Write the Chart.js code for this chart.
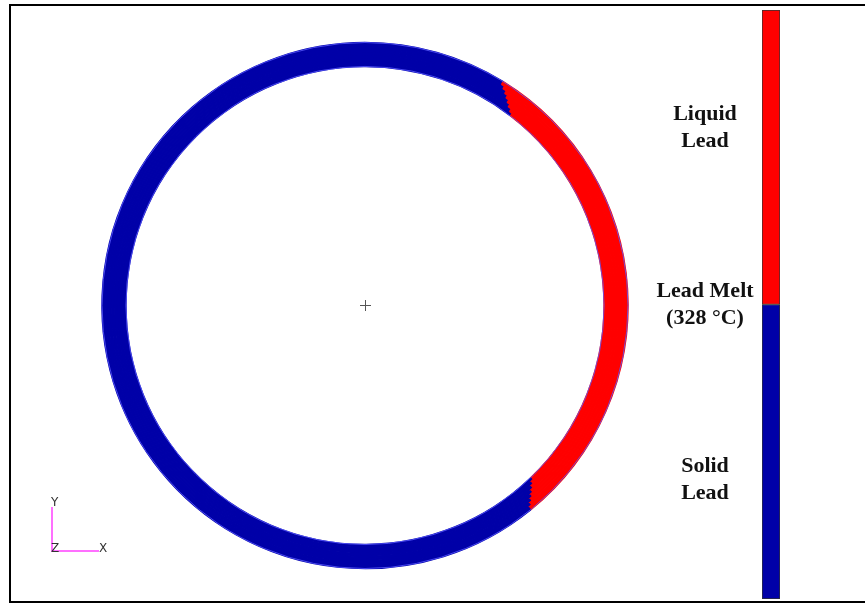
<!DOCTYPE html>
<html>
<head>
<meta charset="utf-8">
<script src="https://cdn.jsdelivr.net/npm/chart.js@4.4.1/dist/chart.umd.min.js"></script>
<style>
    body { margin: 0; background: #fff; }
    #wrap { position: relative; width: 865px; height: 605px; overflow: hidden; background: #fff; }
    #ringChart { position: absolute; left: 0; top: 0; }
    #barBox { position: absolute; left: 762px; top: 10px; width: 18px; height: 589px; }
    .frame { position: absolute; left: 9px; top: 4px; width: 870px; height: 595px;
             border-top: 2px solid #000; border-left: 2px solid #000; border-bottom: 2px solid #000; }
    .label { position: absolute; left: 605px; width: 200px; text-align: center;
             font-family: "Liberation Serif", "Times New Roman", serif; font-weight: bold;
             font-size: 22px; line-height: 27px; color: #111; }
    .axis { position: absolute; background: #ff70ff; }
    .axisText { position: absolute; font-family: "DejaVu Sans", sans-serif; font-size: 12px; color: #333; }
    .cross { position: absolute; background: #555; }
</style>
</head>
<body>
<div id="wrap">
    <div class="frame"></div>
    <canvas id="ringChart" width="865" height="605"></canvas>
    <div id="barBox"><canvas id="barChart" width="18" height="589"></canvas></div>

    <div class="label" style="top: 99px;">Liquid<br>Lead</div>
    <div class="label" style="top: 276px;">Lead Melt<br>(328 °C)</div>
    <div class="label" style="top: 451px;">Solid<br>Lead</div>

    <!-- view triad -->
    <div class="axis" style="left: 51px; top: 507px; width: 2px; height: 45px;"></div>
    <div class="axis" style="left: 51px; top: 550px; width: 48px; height: 2px;"></div>
    <div class="axisText" style="left: 51px; top: 495px;">Y</div>
    <div class="axisText" style="left: 51px; top: 541px;">Z</div>
    <div class="axisText" style="left: 99px; top: 541px;">X</div>

    <!-- centre marker -->
    <div class="cross" style="left: 360px; top: 305px; width: 11px; height: 1px;"></div>
    <div class="cross" style="left: 365px; top: 300px; width: 1px; height: 11px;"></div>
</div>

<script>
// Ring layers through the wall, outer to inner
const ringLayers = ['L1', 'L2', 'L3', 'L4', 'L5', 'L6', 'L7', 'L8'];
// Melted arc for each layer, degrees clockwise from the top
const meltStart = [31.7, 32.5, 33.4, 34.2, 35.0, 35.8, 36.7, 37.5];
const meltEnd = [141.0, 140.4, 139.7, 139.0, 138.3, 137.6, 136.9, 136.2];

// Colour bar segments (bottom to top)
const barLabels = ['Solid Lead', 'Liquid Lead'];
const barValues = [1, 1];

const solidColor = '#0000a8';
const liquidColor = '#ff0000';

// Thin bright outline round the ring, like the mesh edges in the original
const ringOutline = {
    id: 'ringOutline',
    afterDatasetsDraw(chart) {
        const first = chart.getDatasetMeta(0).data[0];
        const last = chart.getDatasetMeta(ringLayers.length - 1).data[0];
        const ctx = chart.ctx;
        ctx.save();
        ctx.strokeStyle = 'rgba(90, 90, 255, 0.8)';
        ctx.lineWidth = 1;
        ctx.beginPath();
        ctx.arc(first.x, first.y, first.outerRadius, 0, Math.PI * 2);
        ctx.stroke();
        ctx.beginPath();
        ctx.arc(last.x, last.y, last.innerRadius, 0, Math.PI * 2);
        ctx.stroke();
        ctx.restore();
    }
};

function buildRingDatasets() {
    const colors = [solidColor, liquidColor, solidColor];
    return ringLayers.map((name, i) => ({
        label: name,
        data: [meltStart[i], meltEnd[i] - meltStart[i], 360 - meltEnd[i]],
        backgroundColor: colors,
        borderColor: colors,
        borderWidth: 1.5
    }));
}

new Chart(document.getElementById('ringChart'), {
    type: 'doughnut',
    data: {
        labels: ['solid', 'liquid', 'solid'],
        datasets: buildRingDatasets()
    },
    options: {
        responsive: false,
        animation: false,
        radius: 263,
        cutout: '90.9%',
        layout: { padding: { left: 100, right: 235, top: 42, bottom: 36 } },
        plugins: {
            legend: { display: false },
            tooltip: { enabled: false }
        }
    },
    plugins: [ringOutline]
});

new Chart(document.getElementById('barChart'), {
    type: 'bar',
    data: {
        labels: [''],
        datasets: barLabels.map((name, i) => ({
            label: name,
            data: [barValues[i]],
            backgroundColor: i === 0 ? solidColor : liquidColor,
            borderColor: '#333',
            borderWidth: 1,
            borderSkipped: false,
            barPercentage: 1,
            categoryPercentage: 1
        }))
    },
    options: {
        responsive: false,
        animation: false,
        layout: { padding: 0 },
        scales: {
            x: { display: false, stacked: true },
            y: { display: false, stacked: true, min: 0, max: barValues[0] + barValues[1] }
        },
        plugins: {
            legend: { display: false },
            tooltip: { enabled: false }
        }
    }
});
</script>
</body>
</html>
